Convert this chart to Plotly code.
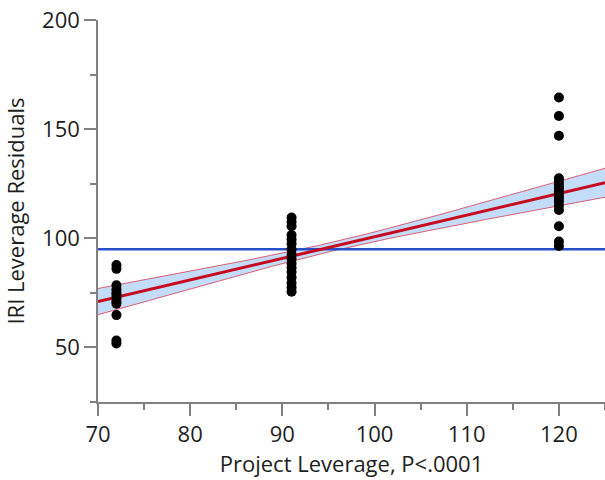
import numpy as np
import plotly.graph_objects as go

# Observed leverage points (x = project leverage group, y = IRI leverage residuals)
y_group1 = [87.8, 86.0, 78.5, 76.5, 75.0, 74.0, 72.5, 71.0, 70.0, 64.8, 53.2, 51.8]
x_group1 = [72] * len(y_group1)
y_group2 = [109.5, 107.5, 105.5, 101.5, 99.5, 97.5, 95.0, 92.5, 90.5, 88.5,
            86.5, 84.5, 82.0, 79.5, 77.5, 75.5]
x_group2 = [91] * len(y_group2)
y_group3 = [164.5, 156.0, 147.0, 127.5, 126.0, 124.5, 123.0, 121.5, 120.0,
            118.5, 117.0, 115.0, 113.0, 105.5, 98.5, 96.5]
x_group3 = [120] * len(y_group3)

# Fit line, mean line and confidence band parameters
fit_at_70 = 71.0
fit_slope = 0.99
mean_y = 95.0
band_center_x = 96.0
band_min_half = 2.0
band_spread = 0.218

x_ticks = [70, 80, 90, 100, 110, 120]
y_ticks = [50, 100, 150, 200]

xs = np.linspace(70, 125, 200)
fit = fit_at_70 + fit_slope * (xs - 70)
half = np.sqrt(band_min_half ** 2 + (band_spread * (xs - band_center_x)) ** 2)
upper = fit + half
lower = fit - half

fig = go.Figure()
fig.add_trace(go.Scatter(x=xs, y=lower, mode="lines",
                         line=dict(color="rgba(220,60,80,0.8)", width=1),
                         hoverinfo="skip", showlegend=False))
fig.add_trace(go.Scatter(x=xs, y=upper, mode="lines", fill="tonexty",
                         fillcolor="rgb(195,220,248)",
                         line=dict(color="rgba(220,60,80,0.8)", width=1),
                         hoverinfo="skip", showlegend=False))
fig.add_trace(go.Scatter(x=[70, 125], y=[mean_y, mean_y], mode="lines",
                         line=dict(color="rgb(40,80,200)", width=2.5),
                         showlegend=False))
fig.add_trace(go.Scatter(x=xs, y=fit, mode="lines",
                         line=dict(color="rgb(200,10,30)", width=3),
                         showlegend=False))
fig.add_trace(go.Scatter(x=x_group1 + x_group2 + x_group3,
                         y=y_group1 + y_group2 + y_group3,
                         mode="markers",
                         marker=dict(color="black", size=10),
                         showlegend=False))

axis_common = dict(showgrid=False, zeroline=False, showline=True,
                   automargin=False,
                   linecolor="rgb(128,128,128)", linewidth=1.5,
                   ticks="outside", ticklen=12, tickwidth=1.5,
                   tickcolor="rgb(128,128,128)",
                   tickfont=dict(family="Open Sans", size=22, color="rgb(30,30,30)"))

fig.update_layout(
    width=605, height=480,
    margin=dict(l=98, r=0, t=20, b=78),
    paper_bgcolor="white", plot_bgcolor="white",
    xaxis=dict(range=[70, 125], tickvals=x_ticks,
               minor=dict(dtick=5, tick0=0, ticklen=6, ticks="outside",
                          tickcolor="rgb(128,128,128)", tickwidth=1.5),
               title=dict(text="Project Leverage, P<.0001", standoff=6,
                          font=dict(family="Open Sans", size=22, color="rgb(30,30,30)")),
               **axis_common),
    yaxis=dict(range=[25, 200], tickvals=y_ticks,
               minor=dict(dtick=25, tick0=0, ticklen=6, ticks="outside",
                          tickcolor="rgb(128,128,128)", tickwidth=1.5),
               title=dict(text="IRI Leverage Residuals", standoff=12,
                          font=dict(family="Open Sans", size=22, color="rgb(30,30,30)")),
               **axis_common),
)

fig.write_html("out.html",
               config={"displayModeBar": False},
               post_script="document.body.style.margin='0px';")
